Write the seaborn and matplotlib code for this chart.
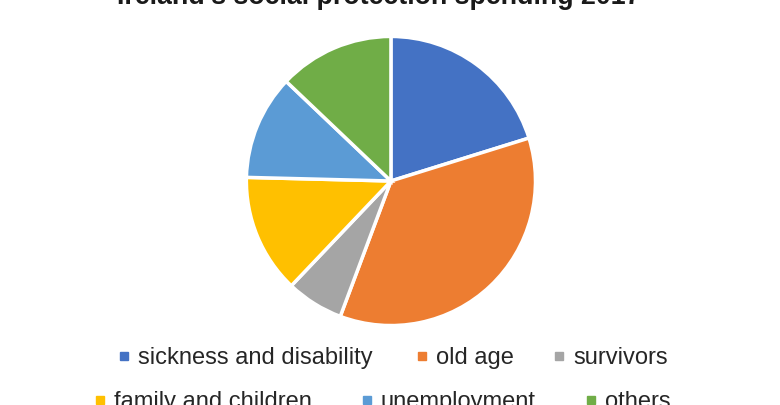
import matplotlib
matplotlib.use('Agg')
import matplotlib.pyplot as plt
from matplotlib.lines import Line2D
import seaborn as sns

# Data
categories = ['sickness and disability', 'old age', 'survivors',
              'family and children', 'unemployment', 'others']
shares = [20.2, 35.5, 6.4, 13.3, 11.7, 12.9]
colors = ['#4472C4', '#ED7D31', '#A5A5A5', '#FFC000', '#5B9BD5', '#70AD47']
title = 'Ireland\u2019s social protection spending 2017'

sns.set_theme(style='white')
plt.rcParams['font.family'] = ['Liberation Sans', 'DejaVu Sans']

fig = plt.figure(figsize=(7.8, 4.05), dpi=100)
ax = fig.add_axes([0.314, 0.1926, 0.3744, 0.721])
ax.pie(shares, colors=colors, startangle=90, counterclock=False,
       wedgeprops=dict(edgecolor='white', linewidth=2.5))
ax.set_xlim(-1.01, 1.01)
ax.set_ylim(-1.01, 1.01)
ax.set_aspect('equal')

fig.text(378.5 / 780, (405 - 4.5) / 405, title, ha='center', va='baseline',
         fontsize=19.3, fontweight='bold', color='#1a1a1a')

# legend entries, two uneven rows like the original
marker_x = [120, 418, 555, 96, 363, 587]
row_y = [358, 358, 358, 402, 402, 402]
for cat, col, mx, my in zip(categories, colors, marker_x, row_y):
    h = Line2D([], [], marker='s', linestyle='none', color=col, markersize=5.5)
    fig.legend([h], [cat], loc='center left',
               bbox_to_anchor=((mx - 2.6) / 780, (405 - my) / 405),
               frameon=False, borderpad=0, borderaxespad=0,
               handlelength=0.6, handletextpad=0.27,
               fontsize=17, labelcolor='#262626')

fig.savefig('out.png', dpi=100)
